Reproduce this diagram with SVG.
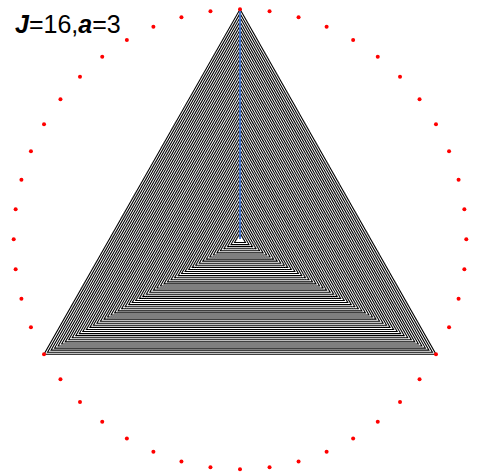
<svg xmlns="http://www.w3.org/2000/svg" xmlns:xlink="http://www.w3.org/1999/xlink" width="477" height="472" viewBox="0 0 477 472">
<style>
.tri{fill:none;stroke:#000;stroke-width:1.1;vector-effect:non-scaling-stroke;stroke-linejoin:miter}
.dot{fill:#ff0000}
.lbl{font-family:"Liberation Sans",Arial,sans-serif;font-size:25px;fill:#000}
.bi{font-weight:bold;font-style:italic}
</style>
<defs>
<polygon id="t" class="tri" points="0,-230 195.98,115 -195.98,115"/>
</defs>
<rect width="477" height="472" fill="#fff"/>
<g id="triangles">
<use href="#t" transform="translate(240 239.3) scale(1)"/>
<use href="#t" transform="translate(240 239.3) scale(0.982)"/>
<use href="#t" transform="translate(240 239.3) scale(0.964)"/>
<use href="#t" transform="translate(240 239.3) scale(0.946)"/>
<use href="#t" transform="translate(240 239.3) scale(0.928)"/>
<use href="#t" transform="translate(240 239.3) scale(0.91)"/>
<use href="#t" transform="translate(240 239.3) scale(0.892)"/>
<use href="#t" transform="translate(240 239.3) scale(0.874)"/>
<use href="#t" transform="translate(240 239.3) scale(0.856)"/>
<use href="#t" transform="translate(240 239.3) scale(0.838)"/>
<use href="#t" transform="translate(240 239.3) scale(0.82)"/>
<use href="#t" transform="translate(240 239.3) scale(0.802)"/>
<use href="#t" transform="translate(240 239.3) scale(0.784)"/>
<use href="#t" transform="translate(240 239.3) scale(0.766)"/>
<use href="#t" transform="translate(240 239.3) scale(0.748)"/>
<use href="#t" transform="translate(240 239.3) scale(0.73)"/>
<use href="#t" transform="translate(240 239.3) scale(0.712)"/>
<use href="#t" transform="translate(240 239.3) scale(0.694)"/>
<use href="#t" transform="translate(240 239.3) scale(0.676)"/>
<use href="#t" transform="translate(240 239.3) scale(0.658)"/>
<use href="#t" transform="translate(240 239.3) scale(0.64)"/>
<use href="#t" transform="translate(240 239.3) scale(0.622)"/>
<use href="#t" transform="translate(240 239.3) scale(0.604)"/>
<use href="#t" transform="translate(240 239.3) scale(0.586)"/>
<use href="#t" transform="translate(240 239.3) scale(0.568)"/>
<use href="#t" transform="translate(240 239.3) scale(0.55)"/>
<use href="#t" transform="translate(240 239.3) scale(0.532)"/>
<use href="#t" transform="translate(240 239.3) scale(0.514)"/>
<use href="#t" transform="translate(240 239.3) scale(0.496)"/>
<use href="#t" transform="translate(240 239.3) scale(0.478)"/>
<use href="#t" transform="translate(240 239.3) scale(0.46)"/>
<use href="#t" transform="translate(240 239.3) scale(0.442)"/>
<use href="#t" transform="translate(240 239.3) scale(0.424)"/>
<use href="#t" transform="translate(240 239.3) scale(0.406)"/>
<use href="#t" transform="translate(240 239.3) scale(0.388)"/>
<use href="#t" transform="translate(240 239.3) scale(0.37)"/>
<use href="#t" transform="translate(240 239.3) scale(0.352)"/>
<use href="#t" transform="translate(240 239.3) scale(0.334)"/>
<use href="#t" transform="translate(240 239.3) scale(0.316)"/>
<use href="#t" transform="translate(240 239.3) scale(0.298)"/>
<use href="#t" transform="translate(240 239.3) scale(0.28)"/>
<use href="#t" transform="translate(240 239.3) scale(0.262)"/>
<use href="#t" transform="translate(240 239.3) scale(0.244)"/>
<use href="#t" transform="translate(240 239.3) scale(0.226)"/>
<use href="#t" transform="translate(240 239.3) scale(0.208)"/>
<use href="#t" transform="translate(240 239.3) scale(0.19)"/>
<use href="#t" transform="translate(240 239.3) scale(0.172)"/>
<use href="#t" transform="translate(240 239.3) scale(0.154)"/>
<use href="#t" transform="translate(240 239.3) scale(0.136)"/>
<use href="#t" transform="translate(240 239.3) scale(0.118)"/>
<use href="#t" transform="translate(240 239.3) scale(0.1)"/>
<use href="#t" transform="translate(240 239.3) scale(0.082)"/>
<use href="#t" transform="translate(240 239.3) scale(0.064)"/>
<use href="#t" transform="translate(240 239.3) scale(0.046)"/>
<use href="#t" transform="translate(240 239.3) scale(0.028)"/>
</g>
<g id="axis">
<line x1="240" y1="10" x2="240" y2="239" stroke="#4472c4" stroke-width="2"/>
</g>
<g id="dots">
<circle class="dot" cx="240" cy="9.3" r="2"/>
<circle class="dot" cx="269.54" cy="11.27" r="2"/>
<circle class="dot" cx="298.57" cy="17.14" r="2"/>
<circle class="dot" cx="326.6" cy="26.81" r="2"/>
<circle class="dot" cx="353.15" cy="40.11" r="2"/>
<circle class="dot" cx="377.76" cy="56.83" r="2"/>
<circle class="dot" cx="400.02" cy="76.67" r="2"/>
<circle class="dot" cx="419.54" cy="99.28" r="2"/>
<circle class="dot" cx="435.98" cy="124.3" r="2"/>
<circle class="dot" cx="449.07" cy="151.28" r="2"/>
<circle class="dot" cx="458.59" cy="179.77" r="2"/>
<circle class="dot" cx="464.36" cy="209.28" r="2"/>
<circle class="dot" cx="466.3" cy="239.3" r="2"/>
<circle class="dot" cx="464.36" cy="269.32" r="2"/>
<circle class="dot" cx="458.59" cy="298.83" r="2"/>
<circle class="dot" cx="449.07" cy="327.32" r="2"/>
<circle class="dot" cx="435.98" cy="354.3" r="2"/>
<circle class="dot" cx="419.54" cy="379.32" r="2"/>
<circle class="dot" cx="400.02" cy="401.93" r="2"/>
<circle class="dot" cx="377.76" cy="421.77" r="2"/>
<circle class="dot" cx="353.15" cy="438.49" r="2"/>
<circle class="dot" cx="326.6" cy="451.79" r="2"/>
<circle class="dot" cx="298.57" cy="461.46" r="2"/>
<circle class="dot" cx="269.54" cy="467.33" r="2"/>
<circle class="dot" cx="240" cy="469.3" r="2"/>
<circle class="dot" cx="210.46" cy="467.33" r="2"/>
<circle class="dot" cx="181.43" cy="461.46" r="2"/>
<circle class="dot" cx="153.4" cy="451.79" r="2"/>
<circle class="dot" cx="126.85" cy="438.49" r="2"/>
<circle class="dot" cx="102.24" cy="421.77" r="2"/>
<circle class="dot" cx="79.98" cy="401.93" r="2"/>
<circle class="dot" cx="60.46" cy="379.32" r="2"/>
<circle class="dot" cx="44.02" cy="354.3" r="2"/>
<circle class="dot" cx="30.93" cy="327.32" r="2"/>
<circle class="dot" cx="21.41" cy="298.83" r="2"/>
<circle class="dot" cx="15.64" cy="269.32" r="2"/>
<circle class="dot" cx="13.7" cy="239.3" r="2"/>
<circle class="dot" cx="15.64" cy="209.28" r="2"/>
<circle class="dot" cx="21.41" cy="179.77" r="2"/>
<circle class="dot" cx="30.93" cy="151.28" r="2"/>
<circle class="dot" cx="44.02" cy="124.3" r="2"/>
<circle class="dot" cx="60.46" cy="99.28" r="2"/>
<circle class="dot" cx="79.98" cy="76.67" r="2"/>
<circle class="dot" cx="102.24" cy="56.83" r="2"/>
<circle class="dot" cx="126.85" cy="40.11" r="2"/>
<circle class="dot" cx="153.4" cy="26.81" r="2"/>
<circle class="dot" cx="181.43" cy="17.14" r="2"/>
<circle class="dot" cx="210.46" cy="11.27" r="2"/>
</g>
<g id="label">
<text class="lbl" x="15" y="33"><tspan class="bi">J</tspan>=16,<tspan class="bi">a</tspan>=3</text>
</g>
</svg>
